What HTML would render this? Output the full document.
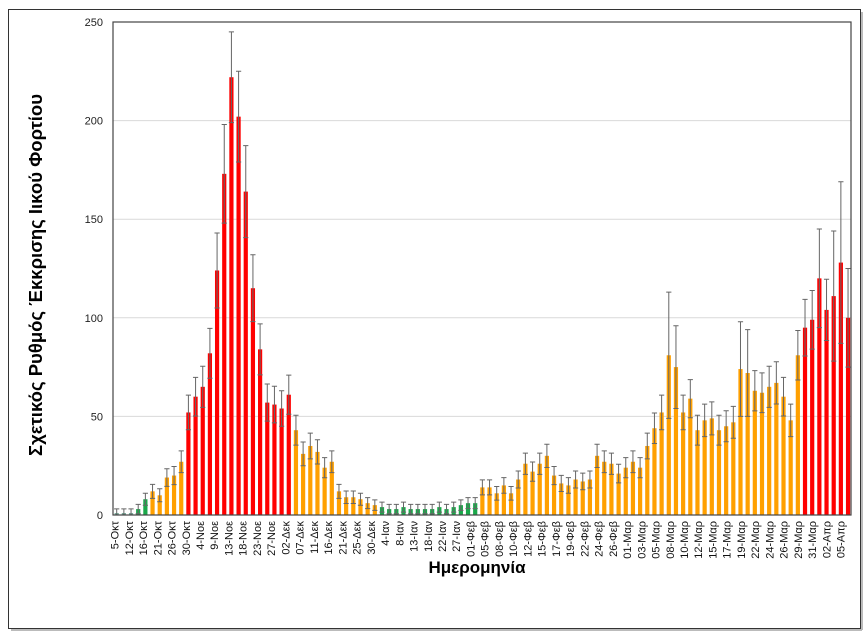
<!DOCTYPE html>
<html><head><meta charset="utf-8"><style>
body{margin:0;background:#fff;width:868px;height:634px;overflow:hidden}
svg text{font-family:"Liberation Sans","DejaVu Sans",sans-serif}
</style></head><body>
<svg id="s" width="868" height="634" xmlns="http://www.w3.org/2000/svg">
<rect x="8.5" y="9.5" width="852" height="619" fill="#fff" stroke="#333" stroke-width="1"/>
<line x1="862" y1="12" x2="862" y2="630" stroke="#bbb" stroke-width="2"/>
<line x1="11" y1="630" x2="862" y2="630" stroke="#bbb" stroke-width="2"/>
<g id="g"></g>
<text x="477" y="573" font-size="17" font-weight="bold" text-anchor="middle" fill="#000">Ημερομηνία</text>
<text transform="translate(42,275) rotate(-90)" font-size="18.5" font-weight="bold" text-anchor="middle" fill="#000">Σχετικός Ρυθμός Έκκρισης Ιικού Φορτίου</text>
</svg>
<script>
var v=[1,1,1,3,8,12,10,19,20,27,52,60,65,82,124,173,222,202,164,115,84,57,56,54,61,
43,31,35,32,24,27,12,9,9,8,6,5,
4,3,3,4,3,3,3,3,4,3,4,5,6,6,
14,14,11,15,11,18,26,22,26,30,20,16,15,18,17,18,30,27,26,21,24,27,24,35,44,52,81,75,52,59,43,48,49,43,45,47,74,72,63,62,65,67,60,48,81,
95,99,120,104,111,128,100];
var E={14:19,15:25,16:23,17:23,77:32,78:21,87:24,88:22,98:25,100:33,101:41,102:25};
var lab="5-Οκτ,12-Οκτ,16-Οκτ,21-Οκτ,26-Οκτ,30-Οκτ,4-Noε,9-Noε,13-Noε,18-Noε,23-Noε,27-Noε,02-Δεκ,07-Δεκ,11-Δεκ,16-Δεκ,21-Δεκ,25-Δεκ,30-Δεκ,4-Ιαν,8-Ιαν,13-Ιαν,18-Ιαν,22-Ιαν,27-Ιαν,01-Φεβ,05-Φεβ,08-Φεβ,10-Φεβ,12-Φεβ,15-Φεβ,17-Φεβ,19-Φεβ,22-Φεβ,24-Φεβ,26-Φεβ,01-Μαρ,03-Μαρ,05-Μαρ,08-Μαρ,10-Μαρ,12-Μαρ,15-Μαρ,17-Μαρ,19-Μαρ,22-Μαρ,24-Μαρ,26-Μαρ,29-Μαρ,31-Μαρ,02-Απρ,05-Απρ".split(",");
var X0=113,X1=851,Y0=515,T=22,k=(Y0-T)/250,s="";
for(var t=0;t<=250;t+=50){var y=Y0-t*k;
 if(t>0)s+='<line x1="'+X0+'" y1="'+y+'" x2="'+X1+'" y2="'+y+'" stroke="#d9d9d9"/>';
 s+='<text x="103" y="'+(y+4)+'" font-size="11" text-anchor="end" fill="#222">'+t+'</text>';}
var dx=7.17,c0=116.6;
for(var i=0;i<v.length;i++){var x=c0+i*dx,h=v[i]*k;
 var col=(i>=10&&i<=24)||i>=96?'#ff0000':((i>=3&&i<=4)||(i>=37&&i<=50)?'#1aa84a':'#ffa000');
 if(i<3)col='#7a9';
 s+='<rect x="'+(x-2)+'" y="'+(Y0-h)+'" width="4.2" height="'+h+'" fill="'+col+'"/>';
 var ev=E[i]!==undefined?E[i]:(v[i]*0.13+2);
 var e=ev*k,yt=Y0-h-e,yb=Math.min(Y0,Y0-h+e);
 s+='<path d="M'+(x+0.1)+' '+yt+'V'+yb+'M'+(x-2.5)+' '+yt+'H'+(x+2.7)+'M'+(x-2.5)+' '+yb+'H'+(x+2.7)+'" stroke="#666" stroke-width="1"/>';}
for(var j=0;j<lab.length;j++){var x=118.6+j*14.235;
 s+='<text transform="translate('+x+',521) rotate(-90)" font-size="11" text-anchor="end" fill="#111">'+lab[j]+'</text>';}
s+='<rect x="'+X0+'" y="'+T+'" width="'+(X1-X0)+'" height="'+(Y0-T)+'" fill="none" stroke="#444" stroke-width="1.2"/>';
document.getElementById('g').innerHTML=s;
</script>
</body></html>
